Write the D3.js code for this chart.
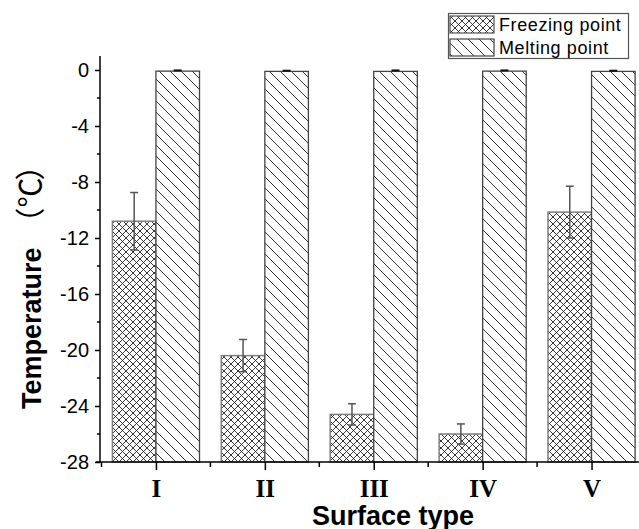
<!DOCTYPE html>
<html>
<head>
<meta charset="utf-8">
<script src="https://cdn.jsdelivr.net/npm/d3@7"></script>
<style>
html,body{margin:0;padding:0;background:#fff;}
svg{display:block;}
</style>
</head>
<body>
<script>
const categories = ["I","II","III","IV","V"];
const freezing = [-10.8, -20.4, -24.6, -26.0, -10.15];
const freezingErr = [2.05, 1.15, 0.76, 0.72, 1.85];
const melting = [-0.08, -0.1, -0.1, -0.08, -0.1];
const meltingErr = [0.05, 0.05, 0.07, 0.05, 0.05];
const yTicks = [0, -4, -8, -12, -16, -20, -24, -28];
const seriesNames = ["Freezing point", "Melting point"];

const W = 639, H = 529;
const svg = d3.select("body").append("svg").attr("width", W).attr("height", H);
const defs = svg.append("defs");

// patterns
const pc = defs.append("pattern").attr("id","cross").attr("patternUnits","userSpaceOnUse")
  .attr("width",7).attr("height",7);
pc.append("rect").attr("width",7).attr("height",7).attr("fill","#fff");
pc.append("path").attr("d","M0,0L7,7M7,0L0,7").attr("stroke","#222").attr("stroke-width",0.9);

const pd = defs.append("pattern").attr("id","diag").attr("patternUnits","userSpaceOnUse")
  .attr("width",11).attr("height",11);
pd.append("rect").attr("width",11).attr("height",11).attr("fill","#fff");
pd.append("path").attr("d","M0,0L11,11M-2,9L2,13M9,-2L13,2").attr("stroke","#333").attr("stroke-width",1);

const x = d3.scaleLinear().domain([0.5, 5.5]).range([101.5, 646]);
const y = d3.scaleLinear().domain([-28, 1]).range([462, 56]);
const barW = 0.4;

const g = svg.append("g");

// bars
categories.forEach((c, i) => {
  const p = i + 1;
  g.append("rect")
    .attr("x", x(p - barW)).attr("width", x(p) - x(p - barW))
    .attr("y", y(freezing[i])).attr("height", y(-28) - y(freezing[i]))
    .attr("fill","url(#cross)").attr("stroke","#808080").attr("stroke-width",1.5);
  g.append("rect")
    .attr("x", x(p)).attr("width", x(p + barW) - x(p))
    .attr("y", y(melting[i])).attr("height", y(-28) - y(melting[i]))
    .attr("fill","url(#diag)").attr("stroke","#444").attr("stroke-width",1.3);
});

// error bars
categories.forEach((c, i) => {
  const p = i + 1;
  const cx = x(p - barW/2);
  const top = y(freezing[i] + freezingErr[i]), bot = y(freezing[i] - freezingErr[i]);
  g.append("line").attr("x1",cx).attr("x2",cx).attr("y1",top).attr("y2",bot)
    .attr("stroke","#555").attr("stroke-width",1.5);
  g.append("line").attr("x1",cx-4).attr("x2",cx+4).attr("y1",top).attr("y2",top)
    .attr("stroke","#555").attr("stroke-width",1.5);
  g.append("line").attr("x1",cx-4).attr("x2",cx+4).attr("y1",bot).attr("y2",bot)
    .attr("stroke","#555").attr("stroke-width",1.5);
  const mx = x(p + barW/2);
  const mt = y(melting[i] + meltingErr[i]);
  g.append("line").attr("x1",mx-4).attr("x2",mx+4).attr("y1",mt).attr("y2",mt)
    .attr("stroke","#111").attr("stroke-width",2);
});

// y axis
const yAxis = d3.axisLeft(y).tickValues(yTicks).tickSize(5).tickPadding(6);
const ya = svg.append("g").attr("transform","translate(100,0)").call(yAxis);
ya.select(".domain").remove();
ya.selectAll(".tick line").attr("stroke","#000").attr("stroke-width",1.5);
ya.selectAll(".tick text").attr("font-family","Liberation Sans, Arial, sans-serif")
  .attr("font-size",20).attr("fill","#000").text(d => d === 0 ? "0" : "-" + Math.abs(d));
const yMinor = d3.range(-26, 1, 4);
svg.append("g").selectAll("line").data(yMinor).join("line")
  .attr("x1",97).attr("x2",100).attr("y1",d=>y(d)).attr("y2",d=>y(d))
  .attr("stroke","#000").attr("stroke-width",1.5);
svg.append("line").attr("x1",100).attr("x2",100).attr("y1",y(1)).attr("y2",y(-28))
  .attr("stroke","#000").attr("stroke-width",1.5);

// x axis
const xAxis = d3.axisBottom(x).tickValues([1,2,3,4,5]).tickSize(8).tickPadding(9)
  .tickFormat((d) => categories[d-1]);
const xa = svg.append("g").attr("transform","translate(0,462)").call(xAxis);
xa.select(".domain").remove();
xa.selectAll(".tick line").attr("stroke","#000").attr("stroke-width",1.5);
xa.selectAll(".tick text").attr("font-family","Liberation Serif, Times New Roman, serif")
  .attr("font-weight","bold").attr("font-size",25).attr("fill","#000");
svg.append("g").selectAll("line").data([0.5,1.5,2.5,3.5,4.5,5.5]).join("line")
  .attr("x1",d=>x(d)).attr("x2",d=>x(d)).attr("y1",462).attr("y2",467)
  .attr("stroke","#000").attr("stroke-width",1.5);
svg.append("line").attr("x1",96).attr("x2",646).attr("y1",462).attr("y2",462)
  .attr("stroke","#000").attr("stroke-width",1.5);

// axis titles
svg.append("text").attr("x",393).attr("y",525).attr("text-anchor","middle")
  .attr("font-family","Liberation Sans, Arial, sans-serif").attr("font-weight","bold")
  .attr("font-size",27).attr("fill","#000").text("Surface type");

const yt = svg.append("text").attr("transform","translate(41,409) rotate(-90)")
  .attr("text-anchor","start").attr("fill","#000");
yt.append("tspan").attr("font-family","Liberation Sans, Arial, sans-serif")
  .attr("font-weight","bold").attr("font-size",27).text("Temperature");
yt.append("tspan").attr("font-family","Noto Sans CJK SC, sans-serif")
  .attr("font-size",30).attr("dx",10).text("（");
yt.append("tspan").attr("font-family","Noto Sans CJK SC, sans-serif")
  .attr("font-size",30).attr("dx",0).text("℃");
yt.append("tspan").attr("font-family","Noto Sans CJK SC, sans-serif")
  .attr("font-size",30).attr("dx",-3).text("）");

// legend
const lg = svg.append("g");
lg.append("rect").attr("x",448.5).attr("y",13.5).attr("width",180).attr("height",45)
  .attr("fill","#fff").attr("stroke","#555").attr("stroke-width",1.2);
const fills = ["url(#cross)","url(#diag)"];
const strokes = ["#555","#444"];
seriesNames.forEach((s, i) => {
  const yy = 16 + i*23;
  lg.append("rect").attr("x",450).attr("y",yy).attr("width",44).attr("height",17)
    .attr("fill",fills[i]).attr("stroke",strokes[i]).attr("stroke-width",1.2);
  lg.append("text").attr("x",499).attr("y",yy+15)
    .attr("font-family","Liberation Sans, Arial, sans-serif").attr("font-size",18)
    .attr("letter-spacing",0.6).attr("fill","#000").text(s);
});
</script>
</body>
</html>
